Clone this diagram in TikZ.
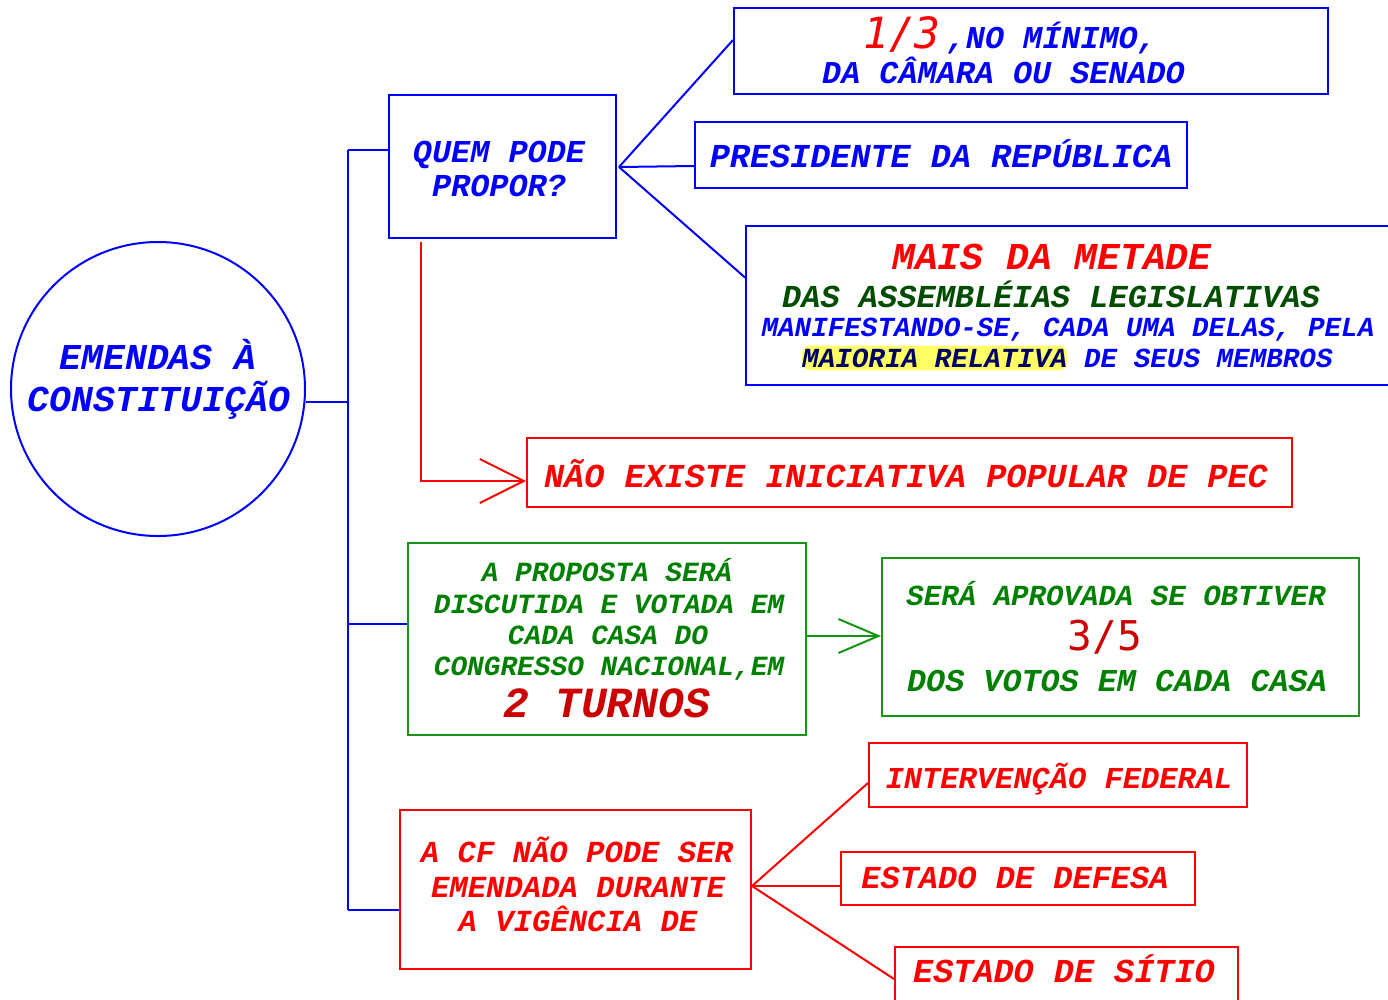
\documentclass[tikz,border=0pt]{standalone}
\usepackage{fontspec}
\newfontfamily\cour{Liberation Mono}
\newfontfamily\djvm{DejaVu Sans Mono}
\usetikzlibrary{arrows.meta}
\definecolor{myblue}{RGB}{0,0,255}
\definecolor{myred}{RGB}{255,0,0}
\definecolor{dred}{RGB}{204,0,0}
\definecolor{mygreen}{RGB}{0,128,0}
\definecolor{gborder}{RGB}{20,150,20}
\definecolor{dgreen}{RGB}{0,77,0}
\definecolor{navy}{RGB}{0,0,100}
\definecolor{hl}{RGB}{255,255,102}
\newcommand\Fs[1]{\fontsize{#1}{#1}\selectfont}
\begin{document}
\begin{tikzpicture}[x=1pt,y=-1pt,
  bbox/.style={draw, rectangle, line width=2pt, inner sep=0pt},
  bl/.style={draw=myblue, line width=2pt},
  rd/.style={draw=myred, line width=2pt},
  gr/.style={draw=gborder, line width=2pt},
  txt/.style={anchor=base, inner sep=0pt, font=\cour\bfseries\itshape},
]
\useasboundingbox (0,0) rectangle (1388,999);

% central circle
\node[circle, draw=myblue, line width=2pt, minimum size=294pt, inner sep=0pt] (circ) at (158,389) {};
\node[txt, text=myblue] (c1) at (158,369) {\Fs{36.4}EMENDAS À};
\node[txt, text=myblue] (c2) at (159,411) {\Fs{36.4}CONSTITUIÇÃO};

% boxes
\node[bbox, draw=myblue, minimum width=227pt, minimum height=143pt] (quem) at (502.5,166.5) {};
\node[bbox, draw=myblue, minimum width=594pt, minimum height=86pt] (b1) at (1031,51) {};
\node[bbox, draw=myblue, minimum width=492pt, minimum height=66pt] (b2) at (941,155) {};
\node[bbox, draw=myblue, minimum width=649pt, minimum height=159pt] (b3) at (1070.5,305.5) {};
\node[bbox, draw=myred, minimum width=765pt, minimum height=69pt] (nao) at (909.5,472.5) {};
\node[bbox, draw=gborder, minimum width=398pt, minimum height=192pt] (gb1) at (607,639) {};
\node[bbox, draw=gborder, minimum width=477pt, minimum height=158pt] (gb2) at (1120.5,637) {};
\node[bbox, draw=myred, minimum width=351pt, minimum height=159pt] (cf) at (575.5,889.5) {};
\node[bbox, draw=myred, minimum width=378pt, minimum height=64pt] (iv) at (1058,775) {};
\node[bbox, draw=myred, minimum width=354pt, minimum height=53pt] (df) at (1018,878.5) {};
\node[bbox, draw=myred, minimum width=343pt, minimum height=63pt] (st) at (1066.5,978.5) {};

% texts
\node[txt, text=myblue] (q1) at (499,162) {\Fs{31.9}QUEM PODE};
\node[txt, text=myblue] (q2) at (499,196) {\Fs{31.9}PROPOR?};

\node[txt, text=myblue] (t11) at (1010,48) {{\djvm\mdseries\itshape\Fs{43}\color{myred}1/3} \Fs{31.8},NO MÍNIMO,};
\node[txt, text=myblue] (t12) at (1003.5,83) {\Fs{31.8}DA CÂMARA OU SENADO};

\node[txt, text=myblue] (t2) at (941,167) {\Fs{33.5}PRESIDENTE DA REPÚBLICA};

\node[txt, text=myred] (t31) at (1052,269) {\Fs{38}MAIS DA METADE};
\node[txt, text=dgreen] (t32) at (1051,307) {\Fs{32}DAS ASSEMBLÉIAS LEGISLATIVAS};
\node[txt, text=myblue] (t33) at (1068,336) {\Fs{27.6}MANIFESTANDO-SE, CADA UMA DELAS, PELA};
\node[txt, anchor=base west, text=navy, fill=hl, rounded corners=8pt, inner xsep=0pt, inner ysep=3pt] (t34) at (802,367) {\Fs{27.6}MAIORIA RELATIVA};
\node[txt, anchor=base west, text=myblue] (t35) at (t34.base east) {\Fs{27.6}\ DE SEUS MEMBROS};

\node[txt, text=myred] (t4) at (906,487) {\Fs{33.5}NÃO EXISTE INICIATIVA POPULAR DE PEC};

\node[txt, text=mygreen] (g1) at (607,581) {\Fs{27.8}A PROPOSTA SERÁ};
\node[txt, text=mygreen] (g2) at (609,613) {\Fs{27.8}DISCUTIDA E VOTADA EM};
\node[txt, text=mygreen] (g3) at (608,644) {\Fs{27.8}CADA CASA DO};
\node[txt, text=mygreen] (g4) at (609,675) {\Fs{27.8}CONGRESSO NACIONAL,EM};
\node[txt, text=dred] (g5) at (607,717) {\Fs{43}2 TURNOS};

\node[txt, text=mygreen] (h1) at (1116,605) {\Fs{29.1}SERÁ APROVADA SE OBTIVER};
\node[txt, text=dred, font=\djvm] (h2) at (1105,650) {\Fs{41}3/5};
\node[txt, text=mygreen] (h3) at (1117,691) {\Fs{31.8}DOS VOTOS EM CADA CASA};

\node[txt, text=myred] (r1) at (577,862) {\Fs{30.6}A CF NÃO PODE SER};
\node[txt, text=myred] (r2) at (578,897) {\Fs{30.6}EMENDADA DURANTE};
\node[txt, text=myred] (r3) at (578,931) {\Fs{30.6}A VIGÊNCIA DE};

\node[txt, text=myred] (s1) at (1059,788) {\Fs{30.4}INTERVENÇÃO FEDERAL};
\node[txt, text=myred] (s2) at (1015,888) {\Fs{32}ESTADO DE DEFESA};
\node[txt, text=myred] (s3) at (1064,982) {\Fs{33.5}ESTADO DE SÍTIO};

% connectors: trunk
\coordinate (tr) at (348,402);
\coordinate (ta) at (348,150);
\coordinate (tg) at (348,624);
\coordinate (tb) at (348,910);
\draw[bl] (ta) -- (tb);
\draw[bl] (circ.east |- tr) -- (tr);
\draw[bl] (ta) -- (quem.west |- ta);
\draw[bl] (tg) -- (gb1.west |- tg);
\draw[bl] (tb) -- (cf.west |- tb);

% fan from quem
\coordinate (fq) at (619,167);
\draw[bl] (fq) -- ([yshift=11pt]b1.west);
\draw[bl] (fq) -- ([yshift=-11pt]b2.west);
\draw[bl] (fq) -- ([yshift=28pt]b3.west);

% red arrow to nao
\coordinate (rs) at (421,242);
\draw[rd, -{Straight Barb[length=44pt, width=44pt, line width=2pt]}] (rs) |- ([yshift=-8.5pt]nao.west);

% green arrow
\draw[gr, -{Straight Barb[length=40pt, width=34pt, line width=2pt]}] (gb1.east |- 0,636) -- (gb2.west |- 0,636);

% fan from cf
\coordinate (fc) at (752,886);
\draw[rd] (fc) -- ([yshift=-8pt]iv.west);
\draw[rd] (fc) -- ([yshift=-7.5pt]df.west);
\draw[rd] (fc) -- ([yshift=-0.5pt]st.west);
\end{tikzpicture}
\end{document}
